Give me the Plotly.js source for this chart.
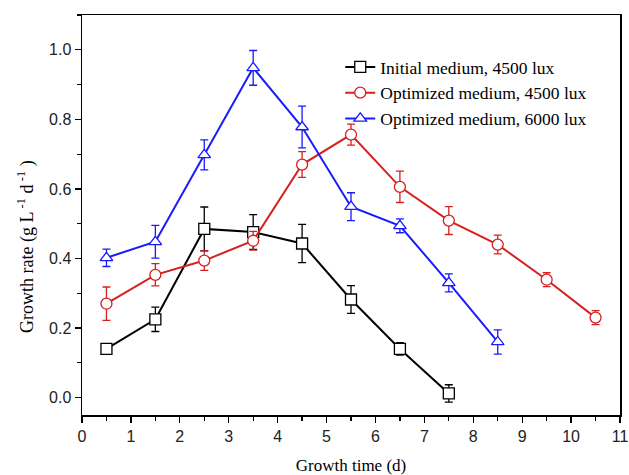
<!DOCTYPE html>
<html>
<head>
<meta charset="utf-8">
<script src="https://cdn.plot.ly/plotly-3.0.1.min.js"></script>
<style>html,body{margin:0;padding:0;background:#fff}#chart{width:629px;height:475px}</style>
</head>
<body>
<div id="chart"></div>
<script>
const xInitial = [0.5, 1.5, 2.5, 3.5, 4.5, 5.5, 6.5, 7.5];
const yInitial = [0.14, 0.225, 0.485, 0.476, 0.443, 0.282, 0.14, 0.012];
const eInitial = [0.01, 0.035, 0.063, 0.05, 0.055, 0.04, 0.018, 0.025];

const xOpt4500 = [0.5, 1.5, 2.5, 3.5, 4.5, 5.5, 6.5, 7.5, 8.5, 9.5, 10.5];
const yOpt4500 = [0.27, 0.353, 0.394, 0.451, 0.67, 0.756, 0.606, 0.509, 0.44, 0.339, 0.23];
const eOpt4500 = [0.048, 0.032, 0.028, 0.027, 0.037, 0.03, 0.045, 0.04, 0.027, 0.02, 0.02];

const xOpt6000 = [0.5, 1.5, 2.5, 3.5, 4.5, 5.5, 6.5, 7.5, 8.5];
const yOpt6000 = [0.402, 0.448, 0.698, 0.948, 0.778, 0.549, 0.494, 0.33, 0.16];
const eOpt6000 = [0.025, 0.047, 0.043, 0.05, 0.06, 0.04, 0.02, 0.026, 0.035];

const names = ['Initial medium, 4500 lux', 'Optimized medium, 4500 lux', 'Optimized medium, 6000 lux'];
const xTicks = [0,1,2,3,4,5,6,7,8,9,10,11];
const yTicks = [0.0, 0.2, 0.4, 0.6, 0.8, 1.0];
const yTitle = 'Growth rate (g L<sup> -1</sup> d<sup> -1</sup> )';

function series(x, y, e, name, color, symbol) {
  return {
    x: x, y: y, name: name, type: 'scatter', mode: 'lines+markers',
    line: {color: color, width: 2},
    marker: {symbol: symbol, size: 11, color: '#ffffff', line: {color: color, width: 1.3}},
    error_y: {type: 'data', array: e, visible: true, color: color, thickness: 1.3, width: 4}
  };
}

const data = [
  series(xInitial, yInitial, eInitial, names[0], '#000000', 'square'),
  series(xOpt4500, yOpt4500, eOpt4500, names[1], '#d62020', 'circle'),
  series(xOpt6000, yOpt6000, eOpt6000, names[2], '#1a1aff', 'triangle-up')
];

const axisCommon = {
  showgrid: false, zeroline: false, showline: true, linecolor: '#000', linewidth: 1.5,
  mirror: true, ticks: 'outside', ticklen: 6, tickwidth: 1.3, tickcolor: '#000',
  tickfont: {family: 'Liberation Sans, Arial, sans-serif', size: 16, color: '#222'}
};

const layout = {
  width: 629, height: 475,
  margin: {l: 82, r: 9, t: 15, b: 60},
  paper_bgcolor: '#fff', plot_bgcolor: '#fff',
  showlegend: true,
  legend: {
    x: 0.48, y: 0.915, xanchor: 'left', yanchor: 'top',
    bgcolor: 'rgba(0,0,0,0)', borderwidth: 0,
    font: {family: 'Liberation Serif, Times New Roman, serif', size: 17.5, color: '#000'},
    tracegroupgap: 0
  },
  xaxis: Object.assign({}, axisCommon, {
    range: [0, 11], tickmode: 'array', tickvals: xTicks, ticktext: xTicks.map(String),
    minor: {dtick: 0.5, ticks: 'outside', ticklen: 4, tickcolor: '#000', tickwidth: 1.2},
    title: {text: 'Growth time (d)', standoff: 16,
      font: {family: 'Liberation Serif, Times New Roman, serif', size: 17, color: '#000'}}
  }),
  yaxis: Object.assign({}, axisCommon, {
    range: [-0.05, 1.1], tickmode: 'array', tickvals: yTicks, ticktext: yTicks.map(v => v.toFixed(1)),
    minor: {dtick: 0.1, ticks: 'outside', ticklen: 4, tickcolor: '#000', tickwidth: 1.2}
  }),
  annotations: [{
    text: yTitle, xref: 'paper', yref: 'paper', x: -0.104, y: 0.42,
    xanchor: 'center', yanchor: 'middle', textangle: -90, showarrow: false,
    font: {family: 'Liberation Serif, Times New Roman, serif', size: 18, color: '#000'}
  }]
};

Plotly.newPlot('chart', data, layout, {displayModeBar: false, staticPlot: true});
</script>
</body>
</html>
